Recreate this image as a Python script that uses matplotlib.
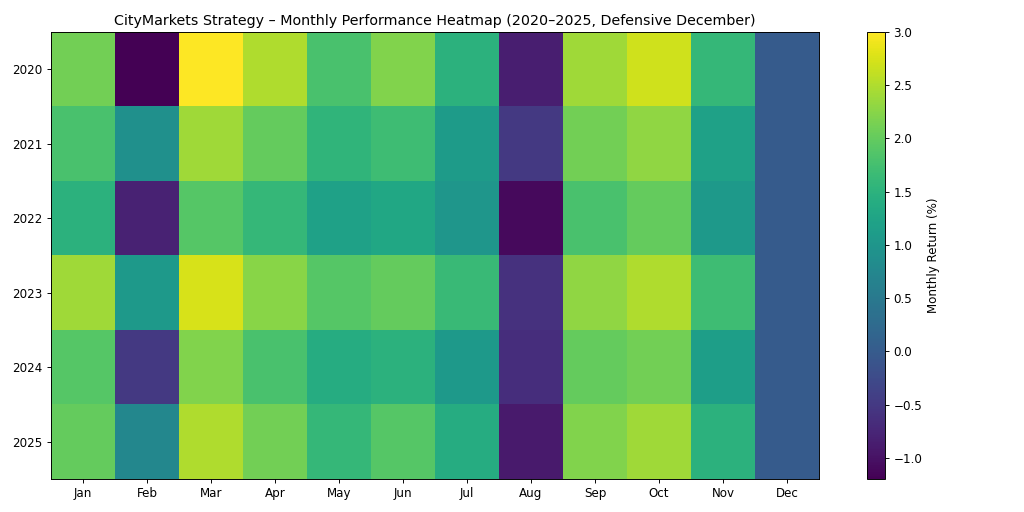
import numpy as np
import matplotlib
matplotlib.use("Agg")
import matplotlib.pyplot as plt

months = ["Jan", "Feb", "Mar", "Apr", "May", "Jun",
          "Jul", "Aug", "Sep", "Oct", "Nov", "Dec"]
years = ["2020", "2021", "2022", "2023", "2024", "2025"]

# monthly returns in %
r2020 = [2.1, -1.2, 3.0, 2.5, 1.8, 2.2, 1.5, -0.85, 2.4, 2.7, 1.6, 0.0]
r2021 = [1.8, 0.9, 2.4, 2.0, 1.55, 1.7, 1.1, -0.5, 2.1, 2.3, 1.2, 0.0]
r2022 = [1.5, -0.8, 1.9, 1.6, 1.2, 1.3, 1.0, -1.1, 1.8, 2.0, 1.05, 0.0]
r2023 = [2.4, 1.05, 2.75, 2.25, 1.9, 2.0, 1.65, -0.6, 2.3, 2.5, 1.7, 0.0]
r2024 = [1.9, -0.5, 2.2, 1.8, 1.4, 1.5, 1.05, -0.65, 2.0, 2.1, 1.15, 0.0]
r2025 = [2.0, 0.75, 2.5, 2.1, 1.6, 1.9, 1.4, -0.9, 2.2, 2.4, 1.5, 0.0]

returns = np.array([r2020, r2021, r2022, r2023, r2024, r2025])

dpi = 1024 / 12
fig = plt.figure(figsize=(12, 6), dpi=dpi)
ax = fig.add_axes([51 / 1024, 33 / 512, 768 / 1024, 447 / 512])
im = ax.imshow(returns, cmap="viridis", aspect="auto")

ax.set_xticks(range(len(months)))
ax.set_xticklabels(months)
ax.set_yticks(range(len(years)))
ax.set_yticklabels(years)
ax.set_title("CityMarkets Strategy \u2013 Monthly Performance Heatmap (2020\u20132025, Defensive December)")

cax = fig.add_axes([867 / 1024, 33 / 512, 18 / 1024, 447 / 512])
cbar = fig.colorbar(im, cax=cax)
cbar.set_label("Monthly Return (%)")

fig.savefig("out.png", dpi=dpi)
